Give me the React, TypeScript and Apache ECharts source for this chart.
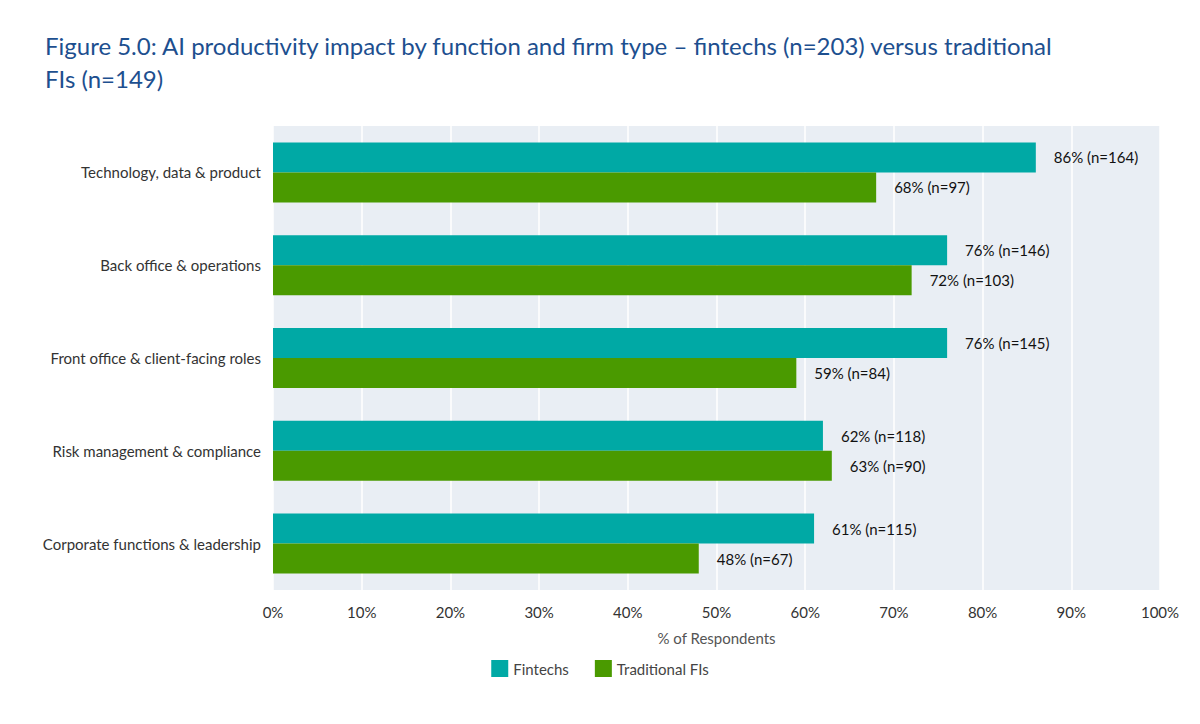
import { useEffect, useRef } from "react";
import * as echarts from "echarts";

const categories = [
  "Technology, data & product",
  "Back office & operations",
  "Front office & client-facing roles",
  "Risk management & compliance",
  "Corporate functions & leadership",
];
const fintechPct = [86, 76, 76, 62, 61];
const fintechN = [164, 146, 145, 118, 115];
const tradPct = [68, 72, 59, 63, 48];
const tradN = [97, 103, 84, 90, 67];

export default function App() {
  const chartRef = useRef<HTMLDivElement>(null);

  useEffect(() => {
    if (!chartRef.current) return;
    const chart = echarts.init(chartRef.current, null, { renderer: "svg" });

    const labelStyle = (ns: number[]) => ({
      show: true,
      position: "right" as const,
      distance: 18,
      color: "#111",
      fontSize: 15,
      fontFamily: "Lato",
      formatter: (p: any) => `${p.value}% (n=${ns[p.dataIndex]})`,
    });

    chart.setOption({
      animation: false,
      textStyle: { fontFamily: "Lato" },
      title: {
        text: "Figure 5.0: AI productivity impact by function and firm type – fintechs (n=203) versus traditional\nFIs (n=149)",
        left: 40,
        top: 24,
        textStyle: { color: "#1d4f8f", fontSize: 24, fontWeight: "normal", lineHeight: 33, fontFamily: "Lato" },
      },
      legend: {
        bottom: 42,
        left: "center",
        itemWidth: 17,
        itemHeight: 17,
        itemGap: 26,
        icon: "rect",
        textStyle: { color: "#444", fontSize: 15 },
        data: ["Fintechs", "Traditional FIs"],
      },
      grid: { left: 273, right: 40, top: 126, bottom: 134, backgroundColor: "#e9eef4", show: true, borderWidth: 0 },
      xAxis: {
        type: "value",
        min: 0,
        max: 100,
        interval: 10,
        name: "% of Respondents",
        nameLocation: "middle",
        nameGap: 40,
        nameTextStyle: { color: "#555", fontSize: 15 },
        axisLabel: { formatter: "{value}%", color: "#333", fontSize: 15, margin: 14 },
        splitLine: { lineStyle: { color: "#ffffff", width: 1.5 } },
        axisLine: { show: false },
        axisTick: { show: false },
      },
      yAxis: {
        type: "category",
        inverse: true,
        data: categories,
        axisLabel: { color: "#333", fontSize: 15, margin: 12 },
        axisLine: { show: false },
        axisTick: { show: false },
      },
      series: [
        {
          name: "Fintechs",
          type: "bar",
          data: fintechPct,
          barWidth: 30,
          barGap: "0%",
          itemStyle: { color: "#00a9a5" },
          label: labelStyle(fintechN),
        },
        {
          name: "Traditional FIs",
          type: "bar",
          data: tradPct,
          barWidth: 30,
          itemStyle: { color: "#4a9a00" },
          label: labelStyle(tradN),
        },
      ],
    });

    return () => chart.dispose();
  }, []);

  return (
    <div
      ref={chartRef}
      style={{ position: "fixed", left: 0, top: 0, width: 1200, height: 724, background: "#fff" }}
    />
  );
}
